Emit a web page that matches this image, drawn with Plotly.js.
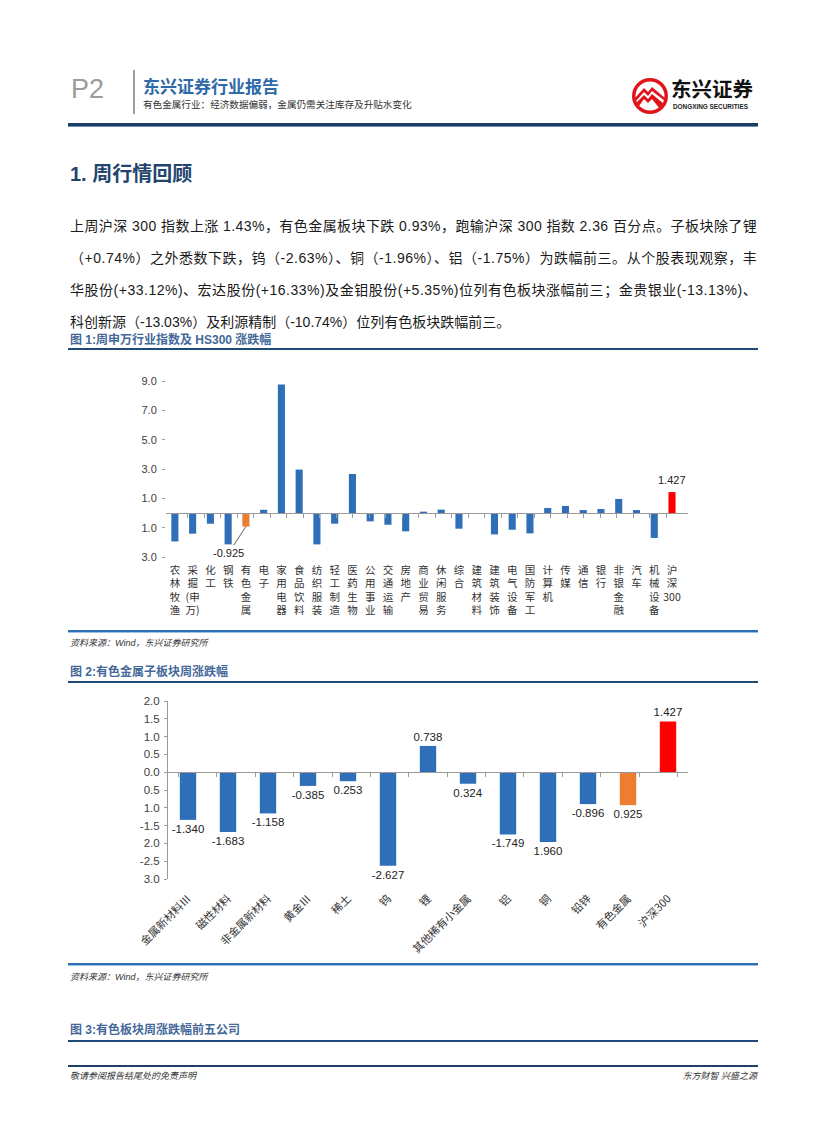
<!DOCTYPE html>
<html><head><meta charset="utf-8">
<script src="https://cdn.plot.ly/plotly-3.0.1.min.js"></script>
<style>
html,body{margin:0;padding:0;background:#fff;}
body{width:827px;height:1122px;position:relative;overflow:hidden;font-family:"Liberation Sans","Noto Sans CJK SC",sans-serif;color:#222;}
.abs{position:absolute;white-space:nowrap;line-height:1;}
.pl{position:absolute;left:70px;font-size:14px;line-height:20px;white-space:nowrap;color:#1a1a1a;}
.ft{position:absolute;left:70px;font-size:12px;line-height:14px;font-weight:bold;color:#44689a;white-space:nowrap;}
.hl{position:absolute;left:68px;width:690px;height:2px;background:#1f4a78;}
.bl{position:absolute;left:68px;width:690px;height:2px;background:#2f6fb4;border-bottom:1px solid #9cc1e6;}
.src{position:absolute;left:70px;font-size:9px;line-height:11px;font-style:italic;color:#333;white-space:nowrap;}
</style></head><body>

<div class="abs" style="left:71px;top:76px;font-size:27px;color:#9c9c9c;font-family:'Liberation Sans';">P2</div>
<div class="abs" style="left:133px;top:70px;width:2px;height:44px;background:#a0a0a0;"></div>
<div class="abs" style="left:143px;top:76.5px;font-size:17px;font-weight:bold;color:#2f6aa8;font-family:'Noto Sans CJK SC';">东兴证券行业报告</div>
<div class="abs" style="left:143px;top:99.5px;font-size:9.6px;color:#333;font-family:'Noto Sans CJK SC';">有色金属行业：经济数据偏弱，金属仍需关注库存及升贴水变化</div>

<svg class="abs" style="left:630px;top:76px;" width="40" height="40" viewBox="0 0 40 40">
  <circle cx="20" cy="20" r="18" fill="#e1141c"/>
  <circle cx="20" cy="20" r="14.5" fill="#fff"/>
  <path d="M5 22 L14 12 L18 16 L22 11 L35 22 L35 25 L22 15 L18 20 L14 16 L6 25 Z" fill="#e1141c"/>
  <path d="M6 27 L14 19 L18 23 L22 18 L34 28 L30 33 L22 23 L18 27 L14 23 L9 30 Z" fill="#e1141c"/>
</svg>
<div class="abs" style="left:671px;top:78px;font-size:20.5px;font-weight:bold;color:#111;font-family:'Noto Sans CJK SC';">东兴证券</div>
<div class="abs" style="left:673px;top:103.5px;font-size:6.4px;font-weight:bold;color:#222;">DONGXING SECURITIES</div>
<div class="abs" style="left:68px;top:123px;width:690px;height:3px;background:#1d3d64;border-bottom:1px solid #6f8fb5;"></div>

<div class="abs" style="left:70px;top:164px;font-size:20px;font-weight:bold;color:#23446f;font-family:'Liberation Sans','Noto Sans CJK SC';">1. 周行情回顾</div>

<div class="pl jl" data-w="687" style="top:216px;"><span>上周沪深 300 指数上涨 1.43%，有色金属板块下跌 0.93%，跑输沪深 300 指数 2.36 百分点。子板块除了锂</span></div>
<div class="pl jl" data-w="687" style="top:248px;"><span>（+0.74%）之外悉数下跌，钨（-2.63%）、铜（-1.96%）、铝（-1.75%）为跌幅前三。从个股表现观察，丰</span></div>
<div class="pl jl" data-w="687" style="top:280px;"><span>华股份(+33.12%)、宏达股份(+16.33%)及金钼股份(+5.35%)位列有色板块涨幅前三；金贵银业(-13.13%)、</span></div>
<div class="pl" style="top:312px;"><span>科创新源（-13.03%）及利源精制（-10.74%）位列有色板块跌幅前三。</span></div>

<div class="ft" style="top:333px;">图 1:周申万行业指数及 HS300 涨跌幅</div>
<div class="hl" style="top:348px;"></div>
<div id="chart1" class="abs" style="left:100px;top:355px;width:660px;height:275px;"></div>
<div class="bl" style="top:630px;"></div>
<div class="src" style="top:638px;">资料来源：Wind，东兴证券研究所</div>

<div class="ft" style="top:665px;">图 2:有色金属子板块周涨跌幅</div>
<div class="hl" style="top:681px;"></div>
<div id="chart2" class="abs" style="left:100px;top:690px;width:660px;height:273px;"></div>
<div class="bl" style="top:963px;"></div>
<div class="src" style="top:972px;">资料来源：Wind，东兴证券研究所</div>

<div class="ft" style="top:1023px;">图 3:有色板块周涨跌幅前五公司</div>
<div class="hl" style="top:1040px;"></div>

<div class="hl" style="top:1065px;height:1.5px;background:#1f3f66;"></div>
<div class="src" style="top:1071px;">敬请参阅报告结尾处的免责声明</div>
<div class="src" style="top:1071px;left:auto;right:70px;">东方财智 兴盛之源</div>

<script>
// ---------- Chart 1 data ----------
const cats1 = ['农林牧渔','采掘(申万)','化工','钢铁','有色金属','电子','家用电器','食品饮料','纺织服装','轻工制造','医药生物','公用事业','交通运输','房地产','商业贸易','休闲服务','综合','建筑材料','建筑装饰','电气设备','国防军工','计算机','传媒','通信','银行','非银金融','汽车','机械设备','沪深300'];
const vals1 = [-1.94,-1.41,-0.73,-2.14,-0.925,0.22,8.76,2.96,-2.14,-0.73,2.66,-0.57,-0.80,-1.25,0.09,0.23,-1.07,-0.02,-1.46,-1.14,-1.39,0.34,0.48,0.20,0.27,0.96,0.20,-1.70,1.427];
const yTickVals1 = [9,7,5,3,1,-1,-3];
const yTickText1 = ['9.0','7.0','5.0','3.0','1.0','1.0','3.0'];
const labelCats1 = ['有色金属','沪深300'];
const labelText1 = ['-0.925','1.427'];

// ---------- Chart 2 data ----------
const cats2 = ['金属新材料Ⅲ','磁性材料','非金属新材料','黄金Ⅲ','稀土','钨','锂','其他稀有小金属','铝','铜','铅锌','有色金属','沪深300'];
const vals2 = [-1.340,-1.683,-1.158,-0.385,-0.253,-2.627,0.738,-0.324,-1.749,-1.960,-0.896,-0.925,1.427];
const labels2 = ['-1.340','-1.683','-1.158','-0.385','0.253','-2.627','0.738','0.324','-1.749','1.960','-0.896','0.925','1.427'];
const yTickVals2 = [2,1.5,1,0.5,0,-0.5,-1,-1.5,-2,-2.5,-3];
const yTickText2 = ['2.0','1.5','1.0','0.5','0.0','0.5','1.0','-1.5','2.0','-2.5','3.0'];

const BLUE = '#2e6fb7', ORANGE = '#ed7d31', RED = '#ff0000';
const colorFor = c => c === '有色金属' ? ORANGE : (c === '沪深300' ? RED : BLUE);

function vertLabel(c){
  if (c === '采掘(申万)') return '采<br>掘<br>(申<br>万)';
  if (c === '沪深300') return '沪<br>深<br>300';
  return Array.from(c).join('<br>');
}

// justify paragraph lines
document.querySelectorAll('.jl').forEach(el => {
  const span = el.firstElementChild;
  const target = parseFloat(el.dataset.w);
  const nat = span.getBoundingClientRect().width;
  const n = Array.from(span.textContent).length;
  span.style.letterSpacing = ((target - nat) / (n - 0.5)) + 'px';
});

// ---------- Chart 1 ----------
const yRange1 = [-3, 9];
const zero1 = (0 - yRange1[0]) / (yRange1[1] - yRange1[0]);
const ann1 = labelCats1.map((c, i) => {
  const v = vals1[cats1.indexOf(c)];
  return v < 0
    ? {x: c, y: v, text: labelText1[i], showarrow: true, arrowhead: 0, arrowwidth: 0.8, arrowcolor: '#333', ax: -17, ay: 26, font: {family: 'Liberation Sans', size: 11, color: '#222'}}
    : {x: c, y: v, text: labelText1[i], showarrow: false, yanchor: 'bottom', yshift: 4, font: {family: 'Liberation Sans', size: 11, color: '#222'}};
});
Plotly.newPlot('chart1', [
  {type: 'bar', x: cats1, y: vals1, marker: {color: cats1.map(colorFor)}, hoverinfo: 'skip'},
  {type: 'scatter', x: cats1, y: vals1, xaxis: 'x2', mode: 'markers', marker: {opacity: 0}, hoverinfo: 'skip'}
], {
  width: 660, height: 275,
  margin: {l: 65.6, r: 72, t: 26.4, b: 72.7, pad: 0},
  bargap: 0.6, showlegend: false,
  paper_bgcolor: 'rgba(0,0,0,0)', plot_bgcolor: 'rgba(0,0,0,0)',
  xaxis: {type: 'category', tickmode: 'array', tickvals: cats1, ticktext: cats1.map(vertLabel), tickangle: 0,
          showline: false, ticks: '', showgrid: false, zeroline: false, automargin: false, ticklabelstandoff: 5,
          tickfont: {family: 'Noto Sans CJK SC', size: 10.5, color: '#333'}},
  xaxis2: {type: 'category', overlaying: 'x', anchor: 'free', position: zero1, side: 'bottom',
           showline: true, linecolor: '#9a9a9a', linewidth: 1, ticks: 'outside', tickson: 'boundaries',
           ticklen: 4, tickcolor: '#9a9a9a', showticklabels: false, showgrid: false, zeroline: false},
  yaxis: {range: yRange1, tickmode: 'array', tickvals: yTickVals1, ticktext: yTickText1, ticks: 'outside', ticklen: 3,
          tickcolor: '#9a9a9a', showline: false, showgrid: false, zeroline: false, automargin: false, ticklabelstandoff: 3,
          tickfont: {family: 'Liberation Sans', size: 11, color: '#404040'}},
  annotations: ann1
}, {staticPlot: true});

// ---------- Chart 2 ----------
const yRange2 = [-3, 2];
const zero2 = (0 - yRange2[0]) / (yRange2[1] - yRange2[0]);
Plotly.newPlot('chart2', [
  {type: 'bar', x: cats2, y: vals2, marker: {color: cats2.map(colorFor)}, hoverinfo: 'skip',
   text: labels2, textposition: 'outside', constraintext: 'none', cliponaxis: false,
   textfont: {family: 'Liberation Sans', size: 11.5, color: '#222'}},
  {type: 'scatter', x: cats2, y: vals2, xaxis: 'x2', mode: 'markers', marker: {opacity: 0}, hoverinfo: 'skip'}
], {
  width: 660, height: 273,
  margin: {l: 67.5, r: 72, t: 10.7, b: 83.7, pad: 0},
  bargap: 0.59, showlegend: false,
  paper_bgcolor: 'rgba(0,0,0,0)', plot_bgcolor: 'rgba(0,0,0,0)',
  xaxis: {type: 'category', tickangle: -45, showline: false, ticks: '', showgrid: false, zeroline: false,
          automargin: false, ticklabelstandoff: 10,
          tickfont: {family: 'Noto Sans CJK SC', size: 11, color: '#333'}},
  xaxis2: {type: 'category', overlaying: 'x', anchor: 'free', position: zero2, side: 'bottom',
           showline: true, linecolor: '#9a9a9a', linewidth: 1, ticks: 'outside', tickson: 'boundaries',
           ticklen: 4, tickcolor: '#9a9a9a', showticklabels: false, showgrid: false, zeroline: false},
  yaxis: {range: yRange2, tickmode: 'array', tickvals: yTickVals2, ticktext: yTickText2, ticks: 'outside', ticklen: 3,
          tickcolor: '#9a9a9a', showline: true, linecolor: '#9a9a9a', linewidth: 1, showgrid: false, zeroline: false,
          automargin: false, ticklabelstandoff: 2, tickfont: {family: 'Liberation Sans', size: 11.5, color: '#404040'}}
}, {staticPlot: true});
</script>
</body></html>
